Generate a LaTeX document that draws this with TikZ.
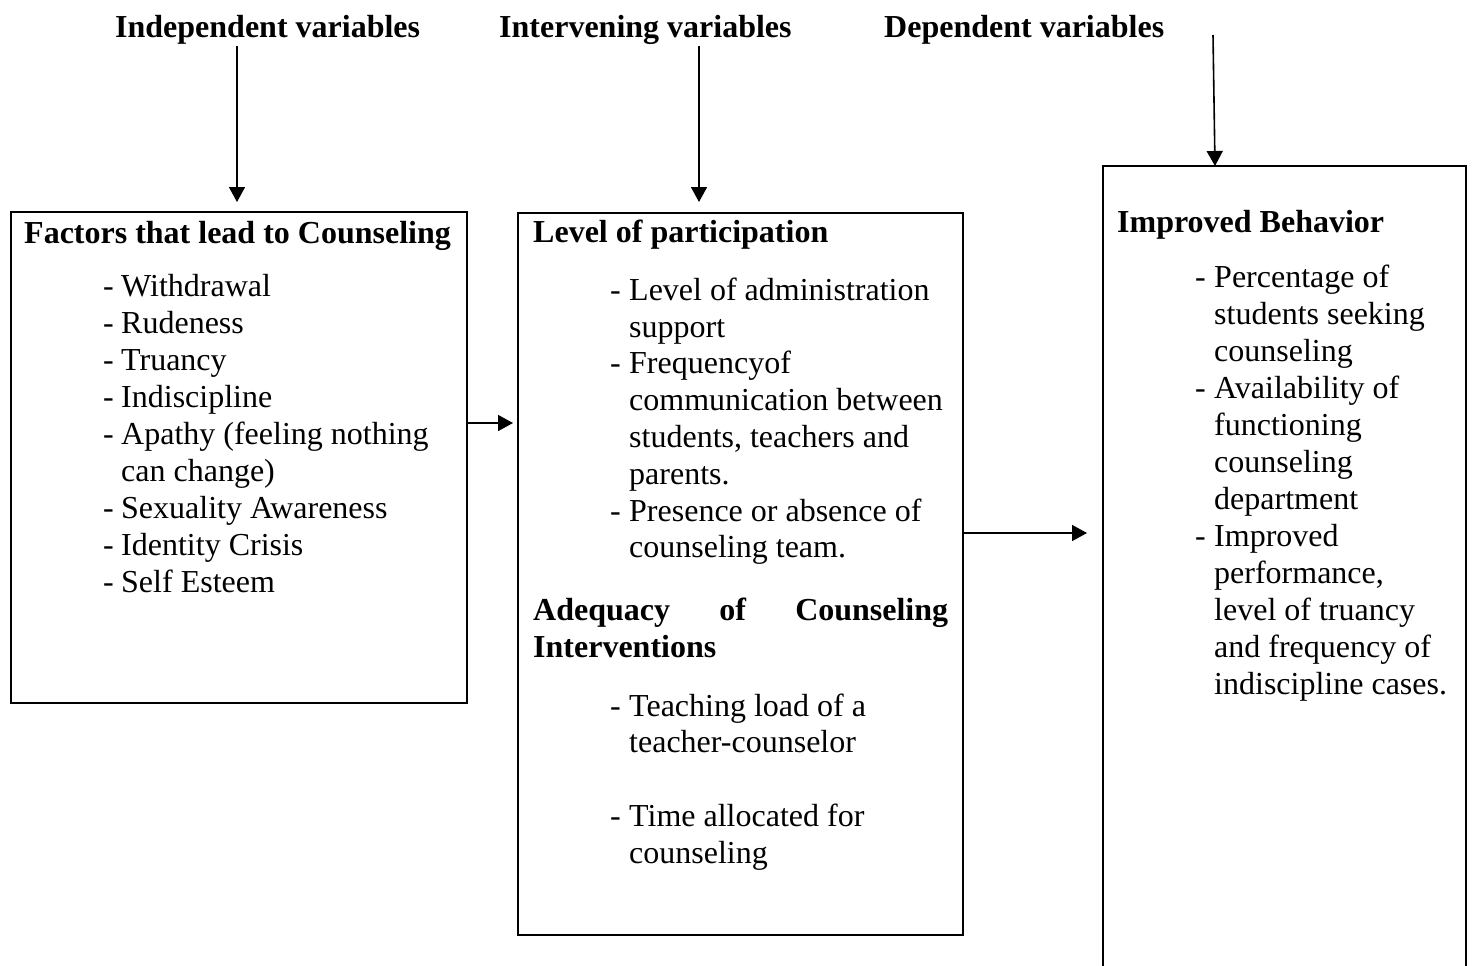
\documentclass[tikz,border=0pt]{standalone}
\usepackage{fontspec}
\setmainfont{Liberation Serif}
\usetikzlibrary{arrows.meta}
\tikzset{
  txt/.style={anchor=base west, inner sep=0pt, font=\fontsize{32}{37}\selectfont},
  btxt/.style={txt, font=\fontsize{32}{37}\selectfont\bfseries},
  boxnode/.style={draw, line width=2.3pt, rectangle, anchor=north west, inner sep=0pt},
  arr/.style={line width=1.6pt, -{Triangle[width=16pt,length=15pt]}}
}
\begin{document}
\begin{tikzpicture}[x=1pt,y=-1pt]
\useasboundingbox (0,0) rectangle (1473,966);
% headings
\node[btxt] (h1) at (115,38) {Independent variables};
\node[btxt] (h2) at (499,38) {Intervening variables};
\node[btxt] (h3) at (884,38) {Dependent variables};
% boxes
\node[boxnode, minimum width=456pt, minimum height=491pt] (box1) at (10,211) {};
\node[boxnode, minimum width=445pt, minimum height=722pt] (box2) at (517,212) {};
\node[boxnode, minimum width=363pt, minimum height=830pt] (box3) at (1102,165) {};
% vertical arrows
\coordinate (a1s) at (237,46);
\coordinate (a1e) at (237,202);
\coordinate (a2s) at (699,46);
\coordinate (a2e) at (699,202);
\coordinate (a3s) at (1213,35);
\coordinate (a3e) at (1215,166);
\draw[arr] (a1s) -- (a1e);
\draw[arr] (a2s) -- (a2e);
\draw[arr] (a3s) -- (a3e);
% horizontal arrows
\coordinate (b1s) at (468,423);
\coordinate (b1e) at (513,423);
\coordinate (b2s) at (963,533);
\coordinate (b2e) at (1087,533);
\draw[arr] (b1s) -- (b1e);
\draw[arr] (b2s) -- (b2e);
% box 1 text
\node[btxt] (t1) at (24,243) {Factors that lead to Counseling};
\node[txt] (d11) at (103,296) {-};
\node[txt] (l11) at (121,296) {Withdrawal};
\node[txt] (d12) at (103,333) {-};
\node[txt] (l12) at (121,333) {Rudeness};
\node[txt] (d13) at (103,370) {-};
\node[txt] (l13) at (121,370) {Truancy};
\node[txt] (d14) at (103,407) {-};
\node[txt] (l14) at (121,407) {Indiscipline};
\node[txt] (d15) at (103,444) {-};
\node[txt] (l15) at (121,444) {Apathy (feeling nothing};
\node[txt] (l15b) at (121,481) {can change)};
\node[txt] (d16) at (103,518) {-};
\node[txt] (l16) at (121,518) {Sexuality Awareness};
\node[txt] (d17) at (103,555) {-};
\node[txt] (l17) at (121,555) {Identity Crisis};
\node[txt] (d18) at (103,592) {-};
\node[txt] (l18) at (121,592) {Self Esteem};
% box 2 text
\node[btxt] (t2) at (533,242) {Level of participation};
\node[txt] (d21) at (610,300) {-};
\node[txt] (l21) at (629,300) {Level of administration};
\node[txt] (l21b) at (629,337) {support};
\node[txt] (d22) at (610,373) {-};
\node[txt] (l22) at (629,373) {Frequencyof};
\node[txt] (l22b) at (629,410) {communication between};
\node[txt] (l22c) at (629,447) {students, teachers and};
\node[txt] (l22d) at (629,484) {parents.};
\node[txt] (d23) at (610,521) {-};
\node[txt] (l23) at (629,521) {Presence or absence of};
\node[txt] (l23b) at (629,557) {counseling team.};
\node[btxt] (t2b) at (533,620) {\hbox to 415pt{Adequacy\hfill of\hfill Counseling}};
\node[btxt] (t2c) at (533,657) {Interventions};
\node[txt] (d24) at (610,716) {-};
\node[txt] (l24) at (629,716) {Teaching load of a};
\node[txt] (l24b) at (629,752) {teacher-counselor};
\node[txt] (d25) at (610,826) {-};
\node[txt] (l25) at (629,826) {Time allocated for};
\node[txt] (l25b) at (629,863) {counseling};
% box 3 text
\node[btxt] (t3) at (1117,232) {Improved Behavior};
\node[txt] (d31) at (1195,287) {-};
\node[txt] (l31) at (1214,287) {Percentage of};
\node[txt] (l31b) at (1214,324) {students seeking};
\node[txt] (l31c) at (1214,361) {counseling};
\node[txt] (d32) at (1195,398) {-};
\node[txt] (l32) at (1214,398) {Availability of};
\node[txt] (l32b) at (1214,435) {functioning};
\node[txt] (l32c) at (1214,472) {counseling};
\node[txt] (l32d) at (1214,509) {department};
\node[txt] (d33) at (1195,546) {-};
\node[txt] (l33) at (1214,546) {Improved};
\node[txt] (l33b) at (1214,583) {performance,};
\node[txt] (l33c) at (1214,620) {level of truancy};
\node[txt] (l33d) at (1214,657) {and frequency of};
\node[txt] (l33e) at (1214,694) {indiscipline cases.};
\end{tikzpicture}
\end{document}
